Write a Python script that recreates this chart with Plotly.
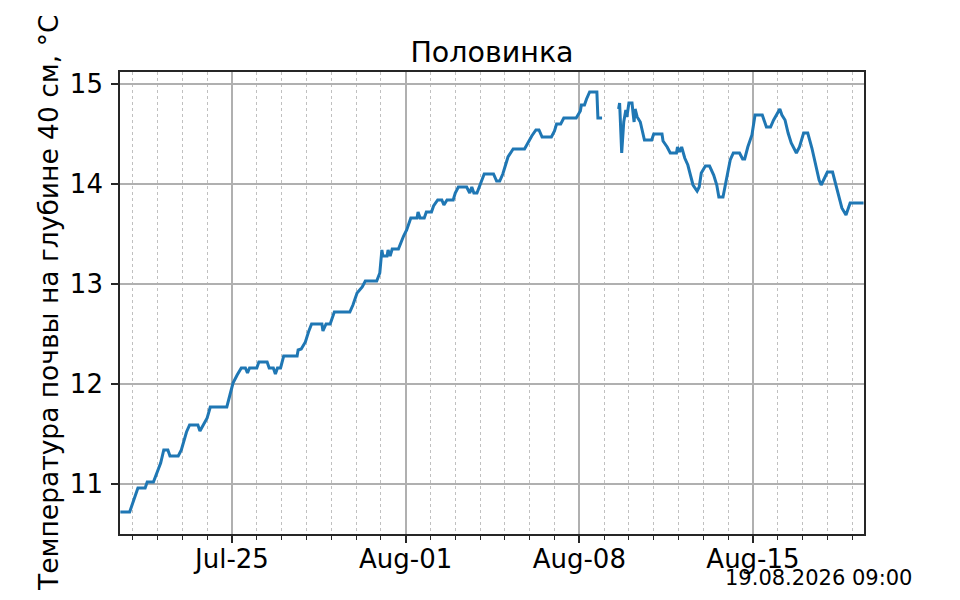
import pandas as pd
import plotly.graph_objects as go

title = "Половинка"
y_label = "Температура почвы на глубине 40 см, °C"
stamp = "19.08.2026 09:00"
start_time = "2026-07-20 12:00"

# hours since start_time
hours = [0, 9, 13, 17, 24, 26, 32, 37, 39, 42, 46, 48, 56, 59, 64, 67, 75, 77, 80, 84,
         87, 103, 106, 109, 113, 117, 121, 123, 125, 132, 134, 142, 144, 148, 150, 152, 155, 158, 171, 172,
         175, 179, 182, 185, 195, 196, 199, 203, 207, 222, 225, 229, 234, 237, 248, 251, 253, 254, 258, 259,
         261, 263, 269, 271, 274, 277, 281, 287, 288, 290, 294, 296, 301, 303, 307, 311, 313, 316, 322, 324,
         327, 335, 338, 340, 342, 345, 350, 352, 361, 364, 367, 370, 375, 380, 391, 394, 398, 402, 405, 408,
         417, 420, 422, 426, 429, 441, 445, 446, 449, 451, 454, 461, 462, 466,
         474,
         482, 483, 485, 487, 489, 490, 492, 495, 496, 497, 498, 500, 503, 505, 507, 514, 516, 524, 525, 529,
         532, 538, 539, 541, 543, 546, 549, 552, 554, 558, 560, 562, 566, 570, 574, 577, 579, 583, 585, 588,
         590, 593, 599, 602, 604, 607, 611, 614, 621, 625, 629, 632, 635, 638, 640, 643, 646, 649, 654, 657,
         661, 665, 669, 673, 676, 678, 681, 684, 689, 692, 694, 698, 702, 704, 706, 719]

temperature = [10.72, 10.72, 10.84, 10.96, 10.96, 11.02, 11.02, 11.16, 11.21, 11.34, 11.34, 11.28, 11.28, 11.34, 11.52, 11.59, 11.59, 11.53, 11.59, 11.66,
               11.77, 11.77, 11.89, 12.01, 12.09, 12.16, 12.16, 12.11, 12.16, 12.16, 12.22, 12.22, 12.16, 12.16, 12.10, 12.16, 12.16, 12.28, 12.28, 12.34,
               12.35, 12.42, 12.52, 12.60, 12.60, 12.53, 12.60, 12.60, 12.72, 12.72, 12.79, 12.91, 12.97, 13.03, 13.03, 13.11, 13.34, 13.28, 13.28, 13.34,
               13.28, 13.35, 13.35, 13.41, 13.48, 13.54, 13.66, 13.66, 13.72, 13.66, 13.66, 13.72, 13.72, 13.78, 13.84, 13.84, 13.79, 13.84, 13.84, 13.91,
               13.97, 13.97, 13.91, 13.97, 13.91, 13.91, 14.04, 14.10, 14.10, 14.03, 14.03, 14.10, 14.27, 14.35, 14.35, 14.41, 14.48, 14.54, 14.54, 14.47,
               14.47, 14.53, 14.60, 14.60, 14.66, 14.66, 14.73, 14.79, 14.79, 14.85, 14.92, 14.92, 14.66, 14.66,
               None,
               14.75, 14.81, 14.31, 14.62, 14.74, 14.67, 14.81, 14.81, 14.71, 14.62, 14.75, 14.67, 14.62, 14.54, 14.44, 14.44, 14.50, 14.50, 14.43, 14.37,
               14.31, 14.31, 14.37, 14.32, 14.37, 14.26, 14.19, 14.07, 13.99, 13.93, 13.97, 14.11, 14.18, 14.18, 14.09, 13.99, 13.87, 13.87, 13.97, 14.14,
               14.24, 14.31, 14.31, 14.25, 14.25, 14.37, 14.49, 14.69, 14.69, 14.57, 14.57, 14.64, 14.69, 14.75, 14.69, 14.64, 14.51, 14.41, 14.31, 14.37,
               14.51, 14.51, 14.36, 14.19, 14.04, 13.99, 14.06, 14.12, 14.12, 13.99, 13.92, 13.76, 13.69, 13.75, 13.81, 13.81]

y_ticks = [11, 12, 13, 14, 15]
x_range = ["2026-07-20 11:40", "2026-08-19 11:25"]
y_range = [10.5, 15.12]

times = pd.Timestamp(start_time) + pd.to_timedelta(hours, unit="h")

FONT = "DejaVu Sans"
GRID = "#b0b0b0"

fig = go.Figure()
fig.add_trace(go.Scatter(x=times, y=temperature, mode="lines",
                         line=dict(color="#1f77b4", width=3),
                         connectgaps=False, showlegend=False))

fig.update_layout(
    width=960, height=600,
    margin=dict(l=112, r=104, t=64, b=74, autoexpand=False),
    paper_bgcolor="white", plot_bgcolor="white",
    font=dict(family=FONT, size=26, color="black"),
    title=dict(text=title, x=0.5, xanchor="center", xref="paper",
               y=1, yref="paper", yanchor="bottom", pad=dict(b=10),
               font=dict(family=FONT, size=28.5, color="black")),
    xaxis=dict(
        range=x_range, type="date", automargin=False,
        tick0="2026-07-25", dtick=7 * 86400000, tickformat="%b-%d",
        ticks="outside", ticklen=7, tickwidth=1.7, tickcolor="#262626",
        showline=True, linecolor="#262626", linewidth=1.7, mirror=True,
        showgrid=True, gridcolor=GRID, gridwidth=1.5,
        zeroline=False,
        tickfont=dict(family=FONT, size=26, color="black"),
        ticklabelstandoff=-6,
        minor=dict(dtick=86400000, tick0="2026-07-25", ticks="outside", ticklen=4,
                   tickwidth=1.2, tickcolor="#262626",
                   showgrid=True, gridcolor="#c0c0c0", gridwidth=1.1, griddash="dot"),
    ),
    yaxis=dict(
        range=y_range, tickvals=y_ticks, automargin=False,
        ticks="outside", ticklen=7, tickwidth=1.7, tickcolor="#262626",
        showline=True, linecolor="#262626", linewidth=1.7, mirror=True,
        showgrid=True, gridcolor=GRID, gridwidth=1.5,
        zeroline=False,
        tickfont=dict(family=FONT, size=26, color="black"),
        ticklabelstandoff=3,
    ),
    annotations=[
        dict(text=y_label, xref="paper", yref="paper", x=-0.0968, y=0.5,
             xanchor="center", yanchor="middle", textangle=-90, showarrow=False,
             font=dict(family=FONT, size=26.5, color="black")),
        dict(text=stamp, xref="paper", yref="paper", x=1.067, y=-0.095,
             xanchor="right", yanchor="middle", showarrow=False,
             font=dict(family=FONT, size=21, color="black")),
    ],
)

fig.write_html("out.html")
